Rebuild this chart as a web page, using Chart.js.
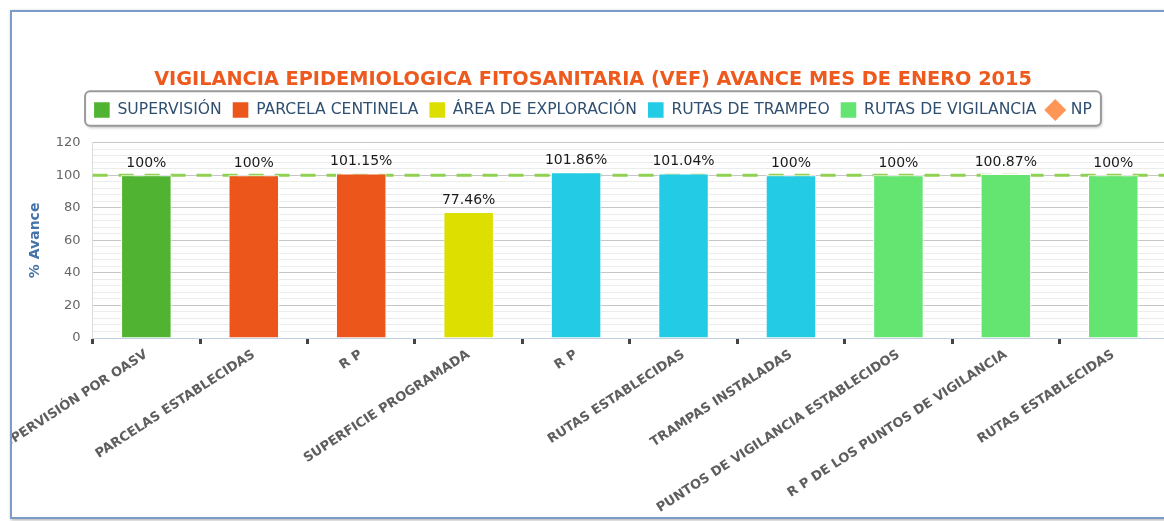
<!DOCTYPE html>
<html>
<head>
<meta charset="utf-8">
<script src="https://cdn.jsdelivr.net/npm/chart.js@4.4.1/dist/chart.umd.min.js"></script>
<style>
  html, body { margin: 0; padding: 0; background: #fff; overflow: hidden; width: 1164px; height: 521px; }
  #frame { position: absolute; left: 10px; top: 10px; width: 1170px; height: 505px;
           border: 2px solid #7b9cc7; box-shadow: 1px 1px 3px rgba(0,0,0,0.35); background: #fff; }
  canvas { display: block; }
</style>
</head>
<body>
<div id="frame"><canvas id="chart" width="1160" height="505"></canvas></div>
<script>
// --- data ---
var categories = ['SUPERVISIÓN POR OASV', 'PARCELAS ESTABLECIDAS', 'R P', 'SUPERFICIE PROGRAMADA', 'R P',
                  'RUTAS ESTABLECIDAS', 'TRAMPAS INSTALADAS', 'PUNTOS DE VIGILANCIA ESTABLECIDOS',
                  'R P DE LOS PUNTOS DE VIGILANCIA', 'RUTAS ESTABLECIDAS'];
var supervision      = [100, null, null, null, null, null, null, null, null, null];
var parcelaCentinela = [null, 100, 101.15, null, null, null, null, null, null, null];
var areaExploracion  = [null, null, null, 77.46, null, null, null, null, null, null];
var rutasTrampeo     = [null, null, null, null, 101.86, 101.04, 100, null, null, null];
var rutasVigilancia  = [null, null, null, null, null, null, null, 100, 100.87, 100];
var np               = [null, null, null, null, null, null, null, null, null, null];
var yTicks = [0, 20, 40, 60, 80, 100, 120];
var metaLine = 100;

var palette = ['#50B432', '#ED561B', '#DDDF00', '#24CBE5', '#64E572', '#FF9655'];
var FONT = "'DejaVu Sans', Verdana, sans-serif";

Chart.defaults.font.family = FONT;

function barSet(label, data, color) {
    return {
        type: 'bar',
        label: label,
        data: data,
        backgroundColor: color,
        borderColor: '#ffffff',
        borderWidth: 1,
        barPercentage: 0.47,
        categoryPercentage: 1
    };
}

// dashed plot line at 100, under the bars
var metaLinePlugin = {
    id: 'metaLine',
    beforeDatasetsDraw: function(chart) {
        var ctx = chart.ctx, area = chart.chartArea;
        var y = chart.scales.y.getPixelForValue(metaLine);
        ctx.save();
        ctx.strokeStyle = '#8fd150';
        ctx.lineWidth = 3;
        ctx.setLineDash([15, 11]);
        ctx.beginPath();
        ctx.moveTo(area.left, y);
        ctx.lineTo(area.right, y);
        ctx.stroke();
        ctx.restore();
    }
};

// "100%" labels above bars
var valueLabels = {
    id: 'valueLabels',
    afterDatasetsDraw: function(chart) {
        var ctx = chart.ctx;
        ctx.save();
        ctx.font = '14px ' + FONT;
        ctx.fillStyle = '#1a1a1a';
        ctx.textAlign = 'center';
        ctx.textBaseline = 'bottom';
        chart.data.datasets.forEach(function(ds, i) {
            if (ds.type !== 'bar') return;
            chart.getDatasetMeta(i).data.forEach(function(bar, j) {
                var v = ds.data[j];
                if (v === null) return;
                ctx.fillText(v + '%', bar.x, bar.y - 5);
            });
        });
        ctx.restore();
    }
};

// rounded frame with shadow behind the legend, plus extra room under it
var legendFrame = {
    id: 'legendFrame',
    afterInit: function(chart) {
        var legend = chart.legend;
        var fit = legend.fit;
        legend.fit = function() {
            fit.call(this);
            this.height += 15;
        };
    },
    beforeDraw: function(chart) {
        var boxes = chart.legend.legendHitBoxes;
        if (!boxes || !boxes.length) return;
        var l = Infinity, r = -Infinity, t = Infinity, b = -Infinity;
        boxes.forEach(function(h) {
            l = Math.min(l, h.left); r = Math.max(r, h.left + h.width);
            t = Math.min(t, h.top); b = Math.max(b, h.top + h.height);
        });
        var ctx = chart.ctx;
        ctx.save();
        ctx.shadowColor = 'rgba(0,0,0,0.25)';
        ctx.shadowBlur = 3;
        ctx.shadowOffsetX = 1;
        ctx.shadowOffsetY = 2;
        ctx.fillStyle = '#ffffff';
        ctx.strokeStyle = '#9a9a9a';
        ctx.lineWidth = 2;
        ctx.beginPath();
        ctx.roundRect(l - 9, t - 11, r - l + 18, b - t + 19, 5);
        ctx.fill();
        ctx.shadowColor = 'transparent';
        ctx.stroke();
        ctx.restore();
    }
};

var ctx = document.getElementById('chart');
new Chart(ctx, {
    data: {
        labels: categories,
        datasets: [
            barSet('SUPERVISIÓN', supervision, palette[0]),
            barSet('PARCELA CENTINELA', parcelaCentinela, palette[1]),
            barSet('ÁREA DE EXPLORACIÓN', areaExploracion, palette[2]),
            barSet('RUTAS DE TRAMPEO', rutasTrampeo, palette[3]),
            barSet('RUTAS DE VIGILANCIA', rutasVigilancia, palette[4]),
            { type: 'line', label: 'NP', data: np, borderColor: palette[5], backgroundColor: palette[5],
              pointStyle: 'rectRot', showLine: false }
        ]
    },
    options: {
        responsive: false,
        animation: false,
        layout: { padding: { left: 7, right: 5, top: 0, bottom: 0 } },
        plugins: {
            title: {
                display: true,
                text: 'VIGILANCIA EPIDEMIOLOGICA FITOSANITARIA (VEF) AVANCE MES DE ENERO 2015',
                color: '#EE5A1E',
                font: { size: 19.3, weight: 'bold' },
                padding: { top: 56, bottom: 0 }
            },
            legend: {
                position: 'top',
                labels: {
                    usePointStyle: true,
                    boxWidth: 16,
                    boxHeight: 16,
                    padding: 11,
                    color: '#2f4f70',
                    font: { size: 15.6 },
                    generateLabels: function(chart) {
                        return chart.data.datasets.map(function(ds, i) {
                            return {
                                text: ds.label,
                                fillStyle: ds.backgroundColor,
                                strokeStyle: ds.backgroundColor,
                                lineWidth: 0,
                                pointStyle: ds.type === 'line' ? 'rectRot' : 'rect',
                                datasetIndex: i,
                                fontColor: '#2f4f70'
                            };
                        });
                    }
                }
            },
            tooltip: { enabled: false }
        },
        scales: {
            x: {
                stacked: true,
                grid: { offset: true, drawOnChartArea: false, tickLength: 6, tickWidth: 3, tickColor: '#444' },
                border: { color: '#c0d0e0', width: 1 },
                ticks: {
                    autoSkip: false,
                    maxRotation: 33,
                    minRotation: 33,
                    padding: 3,
                    color: '#5e5e5e',
                    font: { size: 13, weight: 'bold' }
                },
                afterFit: function(axis) {
                    axis.height = 179;
                    axis.paddingLeft = 0;
                    axis.paddingRight = 0;
                }
            },
            y: {
                stacked: true,
                min: 0,
                max: 120,
                border: { color: '#dcdcdc' },
                grid: {
                    drawTicks: false,
                    color: function(c) { return yTicks.indexOf(c.tick.value) >= 0 ? '#c6c6c6' : '#ececec'; }
                },
                ticks: {
                    stepSize: 4,
                    autoSkip: false,
                    padding: 12,
                    color: '#666666',
                    font: { size: 13 },
                    callback: function(v) { return yTicks.indexOf(v) >= 0 ? v : ''; }
                },
                title: {
                    display: true,
                    text: '% Avance',
                    color: '#4572A7',
                    font: { size: 14, weight: 'bold' },
                    padding: { top: 8, bottom: 0 }
                }
            }
        }
    },
    plugins: [legendFrame, metaLinePlugin, valueLabels]
});
</script>
</body>
</html>
